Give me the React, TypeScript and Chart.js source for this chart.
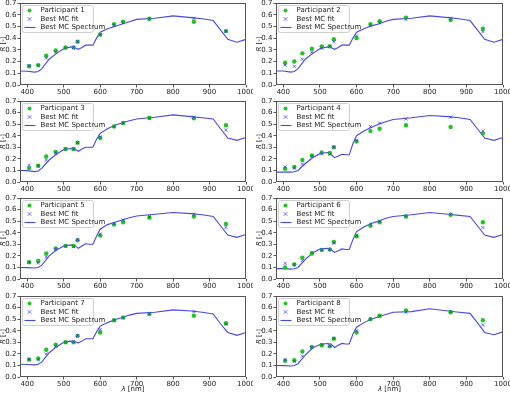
import React, { useEffect, useRef } from "react";
import { Chart, registerables } from "chart.js";
Chart.register(...registerables);

// ---------- DATA ----------
const wavelengths = [405, 430, 452, 478, 505, 527, 538, 600, 638, 663, 735, 857, 945];
const spectrumWl = [380, 400, 420, 430, 440, 460, 480, 500, 520, 530, 540, 550, 560, 570, 580, 590, 600, 620, 640, 660, 680, 700, 750, 800, 850, 880, 910, 930, 950, 975, 1000];
const xTicks = [400, 500, 600, 700, 800, 900, 1000];
const yTicks = [0, 0.1, 0.2, 0.3, 0.4, 0.5, 0.6, 0.7];

const participant1 = [0.16, 0.17, 0.25, 0.295, 0.32, 0.32, 0.37, 0.43, 0.52, 0.54, 0.565, 0.54, 0.46];
const fit1 = [0.165, 0.165, 0.23, 0.28, 0.315, 0.32, 0.37, 0.43, 0.51, 0.53, 0.565, 0.57, 0.46];
const spectrum1 = [0.12, 0.118, 0.11, 0.115, 0.14, 0.22, 0.27, 0.31, 0.325, 0.32, 0.305, 0.32, 0.34, 0.34, 0.34, 0.40, 0.45, 0.48, 0.50, 0.52, 0.54, 0.56, 0.57, 0.59, 0.575, 0.565, 0.55, 0.47, 0.39, 0.365, 0.39];

const participant2 = [0.19, 0.20, 0.27, 0.31, 0.33, 0.33, 0.39, 0.40, 0.52, 0.545, 0.575, 0.555, 0.48];
const fit2 = [0.17, 0.16, 0.22, 0.28, 0.315, 0.33, 0.37, 0.42, 0.505, 0.53, 0.56, 0.57, 0.455];
const spectrum2 = [0.12, 0.12, 0.11, 0.115, 0.14, 0.22, 0.27, 0.31, 0.325, 0.32, 0.305, 0.32, 0.34, 0.34, 0.34, 0.40, 0.45, 0.48, 0.505, 0.52, 0.545, 0.56, 0.57, 0.59, 0.575, 0.565, 0.55, 0.47, 0.39, 0.365, 0.39];

const participant3 = [0.12, 0.14, 0.22, 0.26, 0.285, 0.285, 0.34, 0.38, 0.48, 0.51, 0.555, 0.55, 0.49];
const fit3 = [0.145, 0.14, 0.19, 0.25, 0.285, 0.285, 0.34, 0.39, 0.48, 0.51, 0.55, 0.56, 0.45];
const spectrum3 = [0.10, 0.098, 0.09, 0.095, 0.12, 0.19, 0.24, 0.28, 0.29, 0.285, 0.265, 0.285, 0.30, 0.30, 0.30, 0.37, 0.42, 0.46, 0.49, 0.51, 0.53, 0.545, 0.56, 0.58, 0.565, 0.555, 0.545, 0.46, 0.38, 0.36, 0.385];

const participant4 = [0.115, 0.13, 0.19, 0.23, 0.255, 0.25, 0.30, 0.35, 0.44, 0.46, 0.49, 0.475, 0.42];
const fit4 = [0.13, 0.12, 0.155, 0.22, 0.245, 0.24, 0.30, 0.36, 0.48, 0.51, 0.545, 0.56, 0.44];
const spectrum4 = [0.085, 0.085, 0.085, 0.088, 0.10, 0.16, 0.21, 0.245, 0.255, 0.24, 0.21, 0.225, 0.24, 0.235, 0.235, 0.33, 0.40, 0.44, 0.47, 0.50, 0.52, 0.54, 0.555, 0.575, 0.565, 0.555, 0.54, 0.46, 0.38, 0.36, 0.385];

const participant5 = [0.145, 0.155, 0.22, 0.265, 0.285, 0.285, 0.335, 0.375, 0.47, 0.49, 0.53, 0.54, 0.475];
const fit5 = [0.145, 0.14, 0.19, 0.255, 0.285, 0.28, 0.34, 0.39, 0.48, 0.51, 0.54, 0.56, 0.445];
const spectrum5 = [0.10, 0.098, 0.095, 0.10, 0.12, 0.20, 0.25, 0.285, 0.295, 0.29, 0.265, 0.285, 0.305, 0.30, 0.30, 0.37, 0.43, 0.47, 0.49, 0.51, 0.53, 0.545, 0.56, 0.575, 0.565, 0.555, 0.54, 0.46, 0.38, 0.36, 0.385];

const participant6 = [0.10, 0.125, 0.185, 0.22, 0.25, 0.255, 0.32, 0.37, 0.46, 0.49, 0.54, 0.555, 0.49];
const fit6 = [0.135, 0.125, 0.16, 0.23, 0.255, 0.255, 0.31, 0.375, 0.475, 0.50, 0.545, 0.56, 0.445];
const spectrum6 = [0.09, 0.09, 0.085, 0.088, 0.10, 0.17, 0.225, 0.26, 0.265, 0.255, 0.23, 0.245, 0.26, 0.255, 0.255, 0.34, 0.41, 0.45, 0.48, 0.50, 0.525, 0.54, 0.555, 0.575, 0.56, 0.55, 0.54, 0.46, 0.38, 0.36, 0.385];

const participant7 = [0.15, 0.16, 0.235, 0.28, 0.30, 0.30, 0.355, 0.385, 0.49, 0.515, 0.545, 0.53, 0.465];
const fit7 = [0.155, 0.15, 0.20, 0.265, 0.30, 0.305, 0.36, 0.41, 0.49, 0.51, 0.55, 0.565, 0.455];
const spectrum7 = [0.11, 0.108, 0.105, 0.11, 0.13, 0.21, 0.26, 0.30, 0.31, 0.305, 0.295, 0.31, 0.33, 0.33, 0.33, 0.39, 0.44, 0.47, 0.495, 0.515, 0.535, 0.55, 0.56, 0.58, 0.57, 0.56, 0.545, 0.46, 0.385, 0.36, 0.385];

const participant8 = [0.14, 0.145, 0.22, 0.26, 0.275, 0.265, 0.33, 0.385, 0.50, 0.53, 0.575, 0.56, 0.49];
const fit8 = [0.15, 0.135, 0.18, 0.255, 0.28, 0.27, 0.335, 0.40, 0.50, 0.525, 0.56, 0.565, 0.45];
const spectrum8 = [0.10, 0.098, 0.095, 0.10, 0.115, 0.19, 0.25, 0.28, 0.29, 0.285, 0.255, 0.275, 0.29, 0.285, 0.285, 0.37, 0.43, 0.47, 0.50, 0.52, 0.54, 0.56, 0.565, 0.59, 0.57, 0.56, 0.55, 0.47, 0.385, 0.365, 0.39];

const panelLabels = ["Participant 1", "Participant 2", "Participant 3", "Participant 4", "Participant 5", "Participant 6", "Participant 7", "Participant 8"];
const participants = [participant1, participant2, participant3, participant4, participant5, participant6, participant7, participant8];
const fits = [fit1, fit2, fit3, fit4, fit5, fit6, fit7, fit8];
const spectra = [spectrum1, spectrum2, spectrum3, spectrum4, spectrum5, spectrum6, spectrum7, spectrum8];

// ---------- STYLE ----------
const FONT = "DejaVu Sans";
const GREEN = "#22c422";
const FIT_COLOR = "rgba(40,40,225,0.65)";
const LINE_COLOR = "rgba(0,0,225,0.72)";
const AXIS_COLOR = "#555";
const TEXT_COLOR = "#222";

const colLeft = [20, 276];
const colRight = [246, 503];
const rowTop = [2, 100, 197, 295];
const rowBottom = [85, 182, 279, 377];
const Y_W = 20;
const PAD_TOP = 4;
const PAD_RIGHT = 7;

function Panel({ index }: { index: number }) {
  const ref = useRef<HTMLCanvasElement>(null);
  const col = index % 2;
  const row = Math.floor(index / 2);
  const isBottom = row === 3;
  const xH = isBottom ? 16 : 10;
  const CL = colLeft[col], CR = colRight[col], CT = rowTop[row], CB = rowBottom[row];
  const left = CL - Y_W;
  const top = CT - PAD_TOP;
  const width = CR - CL + Y_W + PAD_RIGHT;
  const height = CB - CT + PAD_TOP + xH;

  useEffect(() => {
    const canvas = ref.current!;
    const label = panelLabels[index];
    const decor = {
      id: "decor",
      afterDraw(chart: any) {
        const ctx = chart.ctx as CanvasRenderingContext2D;
        const a = chart.chartArea;
        ctx.save();
        // frame (crisp 1px)
        ctx.strokeStyle = AXIS_COLOR;
        ctx.lineWidth = 1;
        const fl = Math.round(a.left) + 0.5;
        const ft = Math.round(a.top) + 0.5;
        const fr = Math.round(a.right) - 0.5;
        const fb = Math.round(a.bottom) - 0.5;
        ctx.strokeRect(fl, ft, fr - fl, fb - ft);

        // y title: R [-] (R italic)
        ctx.fillStyle = TEXT_COLOR;
        ctx.textBaseline = "middle";
        ctx.save();
        ctx.translate(3.5, (a.top + a.bottom) / 2);
        ctx.rotate(-Math.PI / 2);
        ctx.font = `italic 7px "${FONT}"`;
        const wR = ctx.measureText("R").width;
        ctx.font = `7px "${FONT}"`;
        const wRest = ctx.measureText(" [-]").width;
        const start = -(wR + wRest) / 2;
        ctx.textAlign = "left";
        ctx.font = `italic 7px "${FONT}"`;
        ctx.fillText("R", start, 0);
        ctx.font = `7px "${FONT}"`;
        ctx.fillText(" [-]", start + wR, 0);
        ctx.restore();

        // x title on bottom row
        if (isBottom) {
          ctx.save();
          ctx.textBaseline = "middle";
          ctx.font = `italic 7px "${FONT}"`;
          const wL = ctx.measureText("λ").width;
          ctx.font = `7px "${FONT}"`;
          const wN = ctx.measureText(" [nm]").width;
          const cx = (a.left + a.right) / 2;
          const sx = cx - (wL + wN) / 2;
          const yy = a.bottom + 12;
          ctx.textAlign = "left";
          ctx.font = `italic 7px "${FONT}"`;
          ctx.fillText("λ", sx, yy);
          ctx.font = `7px "${FONT}"`;
          ctx.fillText(" [nm]", sx + wL, yy);
          ctx.restore();
        }

        // legend
        const lx = Math.round(a.left) + 2.5;
        const ly = Math.round(a.top) + 2.5;
        const lw = 71;
        const lh = 27;
        ctx.beginPath();
        const r = 2;
        ctx.moveTo(lx + r, ly);
        ctx.lineTo(lx + lw - r, ly);
        ctx.quadraticCurveTo(lx + lw, ly, lx + lw, ly + r);
        ctx.lineTo(lx + lw, ly + lh - r);
        ctx.quadraticCurveTo(lx + lw, ly + lh, lx + lw - r, ly + lh);
        ctx.lineTo(lx + r, ly + lh);
        ctx.quadraticCurveTo(lx, ly + lh, lx, ly + lh - r);
        ctx.lineTo(lx, ly + r);
        ctx.quadraticCurveTo(lx, ly, lx + r, ly);
        ctx.closePath();
        ctx.fillStyle = "rgba(255,255,255,0.85)";
        ctx.fill();
        ctx.strokeStyle = "#cfcfcf";
        ctx.lineWidth = 1;
        ctx.stroke();

        const rows = [ly + 5, ly + 13.5, ly + 22];
        const mx = lx + 7;
        // participant dot
        ctx.fillStyle = GREEN;
        ctx.beginPath();
        ctx.arc(mx, rows[0], 2, 0, Math.PI * 2);
        ctx.fill();
        // fit x
        ctx.strokeStyle = FIT_COLOR;
        ctx.lineWidth = 1;
        ctx.beginPath();
        ctx.moveTo(mx - 1.8, rows[1] - 1.8);
        ctx.lineTo(mx + 1.8, rows[1] + 1.8);
        ctx.moveTo(mx + 1.8, rows[1] - 1.8);
        ctx.lineTo(mx - 1.8, rows[1] + 1.8);
        ctx.stroke();
        // line
        ctx.strokeStyle = LINE_COLOR;
        ctx.lineWidth = 1.1;
        ctx.beginPath();
        ctx.moveTo(lx + 2, rows[2]);
        ctx.lineTo(lx + 13, rows[2]);
        ctx.stroke();

        ctx.fillStyle = TEXT_COLOR;
        ctx.font = `7px "${FONT}"`;
        ctx.textAlign = "left";
        ctx.textBaseline = "middle";
        ctx.fillText(label, lx + 18, rows[0]);
        ctx.fillText("Best MC fit", lx + 18, rows[1]);
        ctx.fillText("Best MC Spectrum", lx + 18, rows[2]);
        ctx.restore();
      },
    };

    const chart = new Chart(canvas, {
      type: "scatter",
      data: {
        datasets: [
          {
            label: "Best MC fit",
            data: wavelengths.map((x, j) => ({ x, y: fits[index][j] })),
            pointStyle: "crossRot",
            pointRadius: 2.2,
            borderColor: FIT_COLOR,
            backgroundColor: FIT_COLOR,
            borderWidth: 1,
            showLine: false,
            order: 0,
          },
          {
            label: label,
            data: wavelengths.map((x, j) => ({ x, y: participants[index][j] })),
            pointStyle: "circle",
            pointRadius: 2.2,
            backgroundColor: GREEN,
            borderColor: GREEN,
            borderWidth: 0,
            showLine: false,
            order: 1,
          },
          {
            label: "Best MC Spectrum",
            data: spectrumWl.map((x, j) => ({ x, y: spectra[index][j] })),
            showLine: true,
            pointRadius: 0,
            borderColor: LINE_COLOR,
            borderWidth: 1.1,
            tension: 0,
            fill: false,
            order: 2,
          },
        ],
      },
      options: {
        animation: false,
        responsive: false,
        maintainAspectRatio: false,
        devicePixelRatio: 1,
        events: [],
        layout: { padding: { top: PAD_TOP, right: PAD_RIGHT, left: 0, bottom: 0 } },
        plugins: { legend: { display: false }, tooltip: { enabled: false }, title: { display: false } },
        scales: {
          x: {
            type: "linear",
            min: 380,
            max: 1000,
            afterBuildTicks: (s: any) => {
              s.ticks = xTicks.map((v) => ({ value: v }));
            },
            afterFit: (s: any) => {
              s.height = xH;
              s.paddingLeft = 0;
              s.paddingRight = 0;
            },
            ticks: {
              font: { family: FONT, size: 7 },
              color: TEXT_COLOR,
              padding: 0.5,
              maxRotation: 0,
              autoSkip: false,
              callback: (v: any) => String(v),
            },
            grid: { drawOnChartArea: false, tickLength: 2.5, color: AXIS_COLOR, lineWidth: 1 },
            border: { display: false },
          },
          y: {
            type: "linear",
            min: 0,
            max: 0.7,
            afterBuildTicks: (s: any) => {
              s.ticks = yTicks.map((v) => ({ value: v }));
            },
            afterFit: (s: any) => {
              s.width = Y_W;
              s.paddingTop = 0;
              s.paddingBottom = 0;
            },
            ticks: {
              font: { family: FONT, size: 7 },
              color: TEXT_COLOR,
              padding: 1,
              autoSkip: false,
              callback: (v: any) => Number(v).toFixed(1),
            },
            grid: { drawOnChartArea: false, tickLength: 2.5, color: AXIS_COLOR, lineWidth: 1 },
            border: { display: false },
          },
        },
      },
      plugins: [decor],
    } as any);
    return () => chart.destroy();
  }, [index]);

  return (
    <canvas
      ref={ref}
      width={width}
      height={height}
      style={{ position: "absolute", left, top, width, height }}
    />
  );
}

export default function App() {
  return (
    <div
      style={{
        position: "fixed",
        left: 0,
        top: 0,
        width: 510,
        height: 393,
        overflow: "hidden",
        background: "#fff",
      }}
    >
      {panelLabels.map((_, i) => (
        <Panel key={i} index={i} />
      ))}
    </div>
  );
}
